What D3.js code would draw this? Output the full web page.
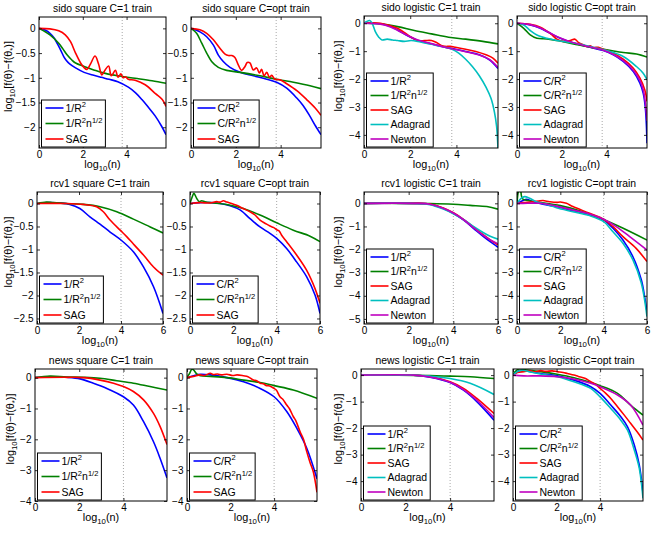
<!DOCTYPE html>
<html><head><meta charset="utf-8">
<script src="https://cdn.jsdelivr.net/npm/d3@7"></script>
<style>body{margin:0;background:#fff}svg{display:block}text{font-family:"Liberation Sans",Arial,Helvetica,sans-serif;fill:#000}</style>
</head><body><svg id="c" width="654" height="533"></svg>
<script>
// ---------- tick values ----------
const xTicksSido = [0, 2, 4];
const xTicksRcv1 = [0, 2, 4, 6];
const xTicksNews = [0, 2, 4];
const yTicksHalf = [0, -0.5, -1, -1.5, -2];
const yTicksHalf25 = [0, -0.5, -1, -1.5, -2, -2.5];
const yTicks4 = [0, -1, -2, -3, -4];
const yTicks5 = [0, -1, -2, -3, -4, -5];

// ---------- legend labels ----------
const labelsSquareC1 = ["1/R^2", "1/R^2n^{1/2}", "SAG"];
const labelsSquareOpt = ["C/R^2", "C/R^2n^{1/2}", "SAG"];
const labelsLogC1 = ["1/R^2", "1/R^2n^{1/2}", "SAG", "Adagrad", "Newton"];
const labelsLogOpt = ["C/R^2", "C/R^2n^{1/2}", "SAG", "Adagrad", "Newton"];
const seriesColors = ["#0000ff", "#008000", "#ff0000", "#00bfbf", "#bf00bf"];

// ---------- data: [log10(n), log10(f - f*)] ----------
// sido square C=1
const sidoSqC1_R2 = [[0,0],[0.3,-0.04],[0.5,-0.1],[0.7,-0.2],[0.85,-0.32],[1.0,-0.45],[1.13,-0.57],[1.25,-0.65],[1.4,-0.72],[1.67,-0.8],[2.06,-0.89],[2.5,-0.95],[2.84,-0.99],[3.2,-1.03],[3.6,-1.08],[4.08,-1.19],[4.4,-1.3],[4.7,-1.44],[5.0,-1.6],[5.32,-1.78],[5.6,-1.98],[5.8,-2.15]];
const sidoSqC1_R2n = [[0,0],[0.5,-0.13],[0.9,-0.3],[1.1,-0.42],[1.29,-0.54],[1.5,-0.64],[1.67,-0.7],[2.06,-0.77],[2.5,-0.84],[2.84,-0.89],[3.6,-0.96],[4.39,-1.01],[5.16,-1.06],[5.8,-1.11]];
const sidoSqC1_SAG = [[0,0],[0.5,-0.01],[0.9,-0.05],[1.2,-0.13],[1.44,-0.27],[1.67,-0.5],[1.9,-0.7],[2.05,-0.79],[2.19,-0.83],[2.35,-0.72],[2.56,-0.56],[2.72,-0.72],[2.87,-0.94],[3.02,-0.84],[3.18,-0.76],[3.3,-0.96],[3.49,-0.85],[3.61,-0.99],[3.74,-0.92],[3.84,-1.0],[3.95,-0.98],[4.08,-1.03],[4.39,-1.05],[4.85,-1.14],[5.32,-1.32],[5.63,-1.44],[5.8,-1.58]];
// sido square C=opt
const sidoSqOpt_R2 = [[0,0],[0.4,-0.07],[0.7,-0.17],[1.0,-0.34],[1.22,-0.54],[1.44,-0.67],[1.74,-0.79],[2.19,-0.89],[2.78,-0.96],[3.38,-1.03],[3.82,-1.09],[4.27,-1.21],[4.72,-1.41],[5.0,-1.56],[5.31,-1.78],[5.55,-1.97],[5.8,-2.15]];
const sidoSqOpt_R2n = [[0,0],[0.25,-0.1],[0.48,-0.3],[0.7,-0.5],[0.92,-0.67],[1.22,-0.79],[1.59,-0.85],[2.19,-0.89],[3.08,-0.96],[3.82,-1.03],[4.57,-1.09],[5.31,-1.16],[5.8,-1.22]];
const sidoSqOpt_SAG = [[0,0],[0.4,-0.03],[0.7,-0.1],[1.0,-0.23],[1.29,-0.4],[1.52,-0.52],[1.67,-0.55],[1.82,-0.55],[1.96,-0.59],[2.11,-0.74],[2.26,-0.85],[2.41,-0.77],[2.51,-0.69],[2.63,-0.7],[2.78,-0.84],[2.93,-0.8],[3.05,-0.9],[3.15,-0.83],[3.26,-0.96],[3.38,-0.89],[3.5,-0.99],[3.6,-0.95],[3.75,-1.03],[3.97,-1.04],[4.27,-1.12],[4.72,-1.26],[5.16,-1.44],[5.54,-1.61],[5.8,-1.76]];
// sido logistic C=1
const sidoLogC1_R2 = [[0,0],[0.71,-0.02],[1.15,-0.12],[1.45,-0.24],[1.89,-0.45],[2.33,-0.62],[2.92,-0.74],[3.51,-0.86],[3.96,-0.93],[4.4,-1.01],[4.99,-1.13],[5.43,-1.31],[5.8,-1.62]];
const sidoLogC1_R2n = [[0,0],[0.71,-0.02],[1.45,-0.12],[2.18,-0.26],[2.92,-0.38],[3.66,-0.5],[4.4,-0.57],[5.14,-0.65],[5.8,-0.74]];
const sidoLogC1_SAG = [[0,0],[0.71,0],[1.45,-0.18],[1.74,-0.33],[2.04,-0.5],[2.33,-0.62],[2.63,-0.62],[2.92,-0.62],[3.14,-0.69],[3.37,-0.81],[3.51,-0.83],[3.73,-0.83],[3.96,-0.86],[4.4,-0.93],[4.84,-1.01],[5.28,-1.13],[5.58,-1.25],[5.8,-1.43]];
const sidoLogC1_Ada = [[0,0],[0.12,0.06],[0.24,0.1],[0.34,0.02],[0.49,-0.3],[0.64,-0.5],[0.78,-0.6],[1.0,-0.57],[1.23,-0.6],[1.45,-0.62],[1.74,-0.65],[2.04,-0.62],[2.33,-0.65],[2.63,-0.71],[2.92,-0.75],[3.22,-0.81],[3.51,-0.86],[3.81,-0.93],[4.1,-1.07],[4.4,-1.29],[4.69,-1.55],[4.99,-1.88],[5.28,-2.29],[5.5,-2.7],[5.65,-3.2],[5.74,-3.7],[5.8,-4.5]];
const sidoLogC1_Newton = [[0,0],[0.71,-0.03],[1.15,-0.13],[1.45,-0.25],[1.89,-0.44],[2.33,-0.6],[2.92,-0.73],[3.51,-0.86],[3.96,-0.94],[4.4,-1.02],[4.99,-1.14],[5.43,-1.3],[5.8,-1.58]];
// sido logistic C=opt
const sidoLogOpt_R2 = [[0,0],[0.59,-0.06],[1.04,-0.18],[1.48,-0.36],[1.93,-0.54],[2.52,-0.71],[3.26,-0.86],[3.85,-0.98],[4.3,-1.13],[4.74,-1.37],[5.19,-1.73],[5.48,-2.14],[5.63,-2.5],[5.72,-2.98],[5.77,-3.6],[5.8,-4.3]];
const sidoLogOpt_R2n = [[0,0],[0.3,-0.18],[0.59,-0.42],[0.89,-0.54],[1.33,-0.56],[1.78,-0.62],[2.52,-0.74],[3.26,-0.86],[4.0,-0.95],[4.74,-1.05],[5.33,-1.1],[5.8,-1.21]];
const sidoLogOpt_SAG = [[0,0],[0.59,-0.04],[1.04,-0.14],[1.48,-0.36],[1.78,-0.57],[2.07,-0.65],[2.37,-0.62],[2.59,-0.57],[2.74,-0.69],[2.96,-0.77],[3.1,-0.83],[3.26,-0.81],[3.41,-0.87],[3.63,-0.86],[3.85,-0.93],[4.3,-1.07],[4.74,-1.29],[5.19,-1.61],[5.48,-1.96],[5.7,-2.38],[5.8,-2.8]];
const sidoLogOpt_Ada = [[0,0],[0.3,-0.06],[0.59,-0.26],[0.89,-0.42],[1.33,-0.54],[1.78,-0.62],[2.52,-0.71],[3.26,-0.83],[4.0,-0.98],[4.74,-1.19],[5.33,-1.55],[5.63,-1.79],[5.8,-2.02]];
const sidoLogOpt_Newton = [[0,0],[0.59,-0.05],[1.04,-0.17],[1.48,-0.35],[1.93,-0.53],[2.52,-0.7],[3.26,-0.85],[3.85,-0.97],[4.3,-1.12],[4.74,-1.34],[5.19,-1.68],[5.48,-2.05],[5.63,-2.38],[5.72,-2.8],[5.8,-3.5]];
// rcv1 square C=1
const rcv1SqC1_R2 = [[0,0],[0.6,0.02],[1.08,0.01],[1.56,-0.02],[2.04,-0.11],[2.52,-0.29],[3.0,-0.45],[3.48,-0.62],[4.04,-0.81],[4.59,-1.05],[5.07,-1.38],[5.55,-1.81],[6,-2.39]];
const rcv1SqC1_R2n = [[0,0],[0.45,0.03],[0.77,0.02],[1.4,0],[2.2,-0.02],[3.0,-0.07],[3.8,-0.18],[4.59,-0.34],[5.39,-0.51],[6,-0.64]];
const rcv1SqC1_SAG = [[0,0],[1.4,0],[2.2,-0.02],[2.84,-0.07],[3.16,-0.18],[3.48,-0.36],[3.96,-0.58],[4.27,-0.72],[4.59,-0.88],[5.07,-1.12],[5.55,-1.38],[6,-1.56]];
// rcv1 square C=opt
const rcv1SqOpt_R2 = [[0,0],[0.46,0.02],[0.92,0.02],[1.38,0],[1.85,-0.05],[2.31,-0.14],[2.77,-0.33],[3.23,-0.51],[3.69,-0.65],[4.0,-0.76],[4.46,-0.98],[4.92,-1.27],[5.38,-1.59],[5.77,-1.99],[6,-2.39]];
const rcv1SqOpt_R2n = [[0,0],[0.1,0.14],[0.18,0.22],[0.31,0.11],[0.43,0.04],[0.54,0.06],[0.69,0.04],[0.92,0.02],[1.69,-0.02],[2.46,-0.11],[3.23,-0.25],[4.0,-0.42],[4.77,-0.58],[5.54,-0.71],[6,-0.83]];
const rcv1SqOpt_SAG = [[0,0],[0.46,0.02],[0.92,0.01],[1.23,0.04],[1.4,0.03],[1.54,0.06],[1.7,0.03],[1.92,0],[2.15,-0.04],[2.46,-0.11],[2.77,-0.18],[3.0,-0.25],[3.23,-0.36],[3.5,-0.44],[3.69,-0.49],[3.85,-0.52],[4.0,-0.57],[4.12,-0.6],[4.23,-0.69],[4.46,-0.83],[4.92,-1.12],[5.38,-1.45],[5.77,-1.85],[6,-2.17]];
// rcv1 logistic C=1
const rcv1LogC1_R2 = [[0,0],[2.2,0],[2.95,-0.04],[3.55,-0.22],[4.0,-0.43],[4.45,-0.72],[4.9,-1.08],[5.35,-1.44],[5.65,-1.66],[6,-1.9]];
const rcv1LogC1_R2n = [[0,0],[1.45,0],[2.95,-0.01],[4.0,-0.04],[4.75,-0.09],[5.5,-0.14],[6,-0.25]];
const rcv1LogC1_SAG = [[0,0],[2.2,0],[2.95,-0.03],[3.55,-0.2],[4.0,-0.41],[4.45,-0.69],[4.9,-1.03],[5.35,-1.37],[5.65,-1.58],[6,-1.8]];
const rcv1LogC1_Ada = [[0,0],[2.0,0],[2.95,-0.06],[3.55,-0.25],[4.0,-0.45],[4.45,-0.7],[4.9,-1.0],[5.35,-1.27],[5.65,-1.42],[6,-1.55]];
const rcv1LogC1_Newton = [[0,0],[2.2,0],[2.95,-0.04],[3.55,-0.21],[4.0,-0.42],[4.45,-0.7],[4.9,-1.05],[5.35,-1.39],[5.65,-1.58],[6,-1.75]];
// rcv1 logistic C=opt
const rcv1LogOpt_R2 = [[0,0],[0.28,0.12],[0.43,0.17],[0.74,0.07],[1.2,-0.04],[1.82,-0.14],[2.58,-0.32],[3.35,-0.5],[4.0,-0.72],[4.43,-1.08],[4.89,-1.59],[5.35,-2.31],[5.74,-3.32],[5.89,-4.04],[6,-4.7]];
const rcv1LogOpt_R2n = [[0,0],[0.08,0.55],[0.15,0.62],[0.25,0.2],[0.5,0.12],[1,0.05],[2,-0.1],[3,-0.35],[4,-0.7],[4.9,-1.08],[6,-1.59]];
const rcv1LogOpt_SAG = [[0,0],[0.28,0.03],[0.74,0.07],[1.0,0.1],[1.2,0.12],[1.5,0.07],[1.82,0.04],[2.0,0.06],[2.28,0],[2.58,-0.14],[3.35,-0.43],[4.0,-0.69],[4.43,-1.01],[4.89,-1.44],[5.5,-1.95],[6,-2.52]];
const rcv1LogOpt_Ada = [[0,0],[0.2,0.22],[0.35,0.29],[0.58,0.22],[0.89,0.07],[1.35,-0.04],[1.82,-0.19],[2.58,-0.36],[3.35,-0.53],[4.0,-0.79],[4.43,-1.23],[4.89,-1.73],[5.35,-2.45],[5.74,-3.46],[6,-4.9]];
const rcv1LogOpt_Newton = [[0,0],[0.28,0],[1.05,0],[1.82,-0.12],[2.58,-0.29],[3.35,-0.46],[4.0,-0.69],[4.58,-1.01],[5.2,-1.44],[6,-2.02]];
// news square C=1
const newsSqC1_R2 = [[0,0],[0.68,0.03],[1.43,0.01],[2.04,-0.04],[2.64,-0.18],[3.25,-0.35],[4.0,-0.62],[4.45,-0.89],[4.91,-1.43],[5.36,-2.08],[5.66,-2.62],[5.97,-3.25]];
const newsSqC1_R2n = [[0,0],[0.68,0.05],[1.43,0.02],[2.2,0.01],[2.94,-0.02],[3.7,-0.1],[4.45,-0.18],[5.2,-0.29],[5.97,-0.4]];
const newsSqC1_SAG = [[0,0],[1.43,0.01],[2.2,0],[2.94,-0.08],[3.55,-0.18],[4.0,-0.29],[4.45,-0.45],[4.91,-0.72],[5.36,-1.16],[5.66,-1.59],[5.97,-2.17]];
// news square C=opt
const newsSqOpt_R2 = [[0,0],[0.3,0.06],[0.61,0.11],[1.07,0.09],[1.83,0],[2.6,-0.13],[3.36,-0.35],[4.0,-0.62],[4.58,-1.1],[5.04,-1.64],[5.5,-2.29],[5.97,-3.28]];
const newsSqOpt_R2n = [[0,0],[0.12,0.14],[0.23,0.28],[0.3,0.25],[0.46,0.11],[0.61,0.06],[1.07,0.04],[1.83,0],[2.6,-0.08],[3.36,-0.16],[4.0,-0.26],[4.88,-0.4],[5.97,-0.67]];
const newsSqOpt_SAG = [[0,0],[0.3,0.04],[0.61,0.09],[0.8,0.07],[1.07,0.14],[1.2,0.1],[1.4,0.12],[1.6,0.09],[1.83,0.11],[2.1,0.07],[2.3,0.09],[2.6,0.06],[2.8,0.03],[3.05,-0.08],[3.2,-0.1],[3.36,-0.18],[3.5,-0.2],[3.66,-0.26],[3.8,-0.27],[4.0,-0.35],[4.1,-0.4],[4.27,-0.62],[4.4,-0.7],[4.58,-0.89],[4.7,-1.0],[4.88,-1.26],[5.0,-1.4],[5.19,-1.75],[5.35,-2.0],[5.5,-2.4],[5.65,-2.75],[5.8,-3.05],[5.97,-3.72]];
// news logistic C=1
const newsLogC1_R2 = [[0,0],[2.36,0],[3.1,-0.08],[4.0,-0.28],[4.6,-0.57],[5.2,-1.0],[5.97,-1.7]];
const newsLogC1_R2n = [[0,0],[3.1,-0.02],[4.0,-0.04],[4.9,-0.06],[5.97,-0.13]];
const newsLogC1_SAG = [[0,0],[2.36,0],[3.1,-0.06],[4.0,-0.25],[4.6,-0.5],[5.2,-0.88],[5.97,-1.45]];
const newsLogC1_Ada = [[0,0],[2.36,0],[3.1,-0.04],[4.0,-0.13],[4.9,-0.31],[5.97,-0.73]];
const newsLogC1_Newton = [[0,0],[2.36,0],[3.1,-0.07],[4.0,-0.27],[4.6,-0.55],[5.2,-0.95],[5.97,-1.6]];
// news logistic C=opt
const newsLogOpt_R2 = [[0,0],[0.18,0.13],[0.42,0.19],[0.8,0.13],[1.26,0.06],[2.03,-0.03],[2.8,-0.19],[3.57,-0.44],[4.0,-0.69],[4.49,-1.13],[4.95,-1.57],[5.26,-1.95],[5.57,-2.64],[5.8,-3.4],[5.97,-4.45]];
const newsLogOpt_R2n = [[0,0],[0.1,0.13],[0.26,0.23],[0.42,0.23],[0.65,0.19],[1.26,0.13],[2.03,0.03],[2.8,-0.1],[3.57,-0.28],[4.0,-0.4],[4.8,-0.69],[5.4,-1.13],[5.97,-1.51]];
const newsLogOpt_SAG = [[0,0],[0.2,0.1],[0.5,0.13],[0.8,0.16],[1.0,0.12],[1.26,0.17],[1.5,0.14],[1.8,0.16],[2.03,0.13],[2.3,0.1],[2.5,0.06],[2.8,0.0],[3.0,-0.05],[3.3,-0.12],[3.57,-0.25],[3.8,-0.35],[4.0,-0.5],[4.26,-0.69],[4.49,-0.88],[4.8,-1.19],[5.11,-1.51],[5.4,-1.82],[5.7,-2.14],[5.97,-2.45]];
const newsLogOpt_Ada = [[0,0],[0.18,0.12],[0.42,0.18],[0.8,0.12],[1.26,0.04],[2.03,-0.06],[2.8,-0.25],[3.57,-0.5],[4.0,-0.82],[4.49,-1.26],[4.95,-1.7],[5.26,-2.08],[5.57,-2.83],[5.8,-3.52],[5.97,-4.65]];
const newsLogOpt_Newton = [[0,0],[0.5,-0.03],[1.26,-0.03],[2.03,-0.06],[2.8,-0.15],[3.57,-0.31],[4.0,-0.44],[4.8,-0.75],[5.4,-1.13],[5.97,-1.89]];

// ---------- panel layout ----------
const panels = [
 {title:"sido square C=1 train", box:[39,17,166,148], xmax:5.8, xt:xTicksSido, yd:[-2.42,0.23], yt:yTicksHalf, vl:3.8, ylab:11.5, labels:labelsSquareC1, series:[sidoSqC1_R2,sidoSqC1_R2n,sidoSqC1_SAG]},
 {title:"sido square C=opt train", box:[191,17,321,148], xmax:5.8, xt:xTicksSido, yd:[-2.42,0.23], yt:yTicksHalf, vl:3.8, ylab:null, labels:labelsSquareOpt, series:[sidoSqOpt_R2,sidoSqOpt_R2n,sidoSqOpt_SAG]},
 {title:"sido logistic C=1 train", box:[364,16,498,148], xmax:5.8, xt:xTicksSido, yd:[-4.47,0.26], yt:yTicks4, vl:3.8, ylab:342, labels:labelsLogC1, series:[sidoLogC1_R2,sidoLogC1_R2n,sidoLogC1_SAG,sidoLogC1_Ada,sidoLogC1_Newton]},
 {title:"sido logistic C=opt train", box:[517,16,647,148], xmax:5.8, xt:xTicksSido, yd:[-4.47,0.26], yt:yTicks4, vl:3.8, ylab:null, labels:labelsLogOpt, series:[sidoLogOpt_R2,sidoLogOpt_R2n,sidoLogOpt_SAG,sidoLogOpt_Ada,sidoLogOpt_Newton]},
 {title:"rcv1 square C=1 train", box:[37,192,163,324], xmax:6, xt:xTicksRcv1, yd:[-2.62,0.25], yt:yTicksHalf25, vl:4, ylab:11.5, labels:labelsSquareC1, series:[rcv1SqC1_R2,rcv1SqC1_R2n,rcv1SqC1_SAG]},
 {title:"rcv1 square C=opt train", box:[190,192,320,324], xmax:6, xt:xTicksRcv1, yd:[-2.62,0.25], yt:yTicksHalf25, vl:4, ylab:null, labels:labelsSquareOpt, series:[rcv1SqOpt_R2,rcv1SqOpt_R2n,rcv1SqOpt_SAG]},
 {title:"rcv1 logistic C=1 train", box:[364,192,498,324], xmax:6, xt:xTicksRcv1, yd:[-5.22,0.49], yt:yTicks5, vl:4, ylab:342, labels:labelsLogC1, series:[rcv1LogC1_R2,rcv1LogC1_R2n,rcv1LogC1_SAG,rcv1LogC1_Ada,rcv1LogC1_Newton]},
 {title:"rcv1 logistic C=opt train", box:[517,192,647,324], xmax:6, xt:xTicksRcv1, yd:[-5.22,0.49], yt:yTicks5, vl:4, ylab:null, labels:labelsLogOpt, series:[rcv1LogOpt_R2,rcv1LogOpt_R2n,rcv1LogOpt_SAG,rcv1LogOpt_Ada,rcv1LogOpt_Newton]},
 {title:"news square C=1 train", box:[35,369,167,501], xmax:5.97, xt:xTicksNews, yd:[-4,0.28], yt:yTicks4, vl:4, ylab:13.5, labels:labelsSquareC1, series:[newsSqC1_R2,newsSqC1_R2n,newsSqC1_SAG]},
 {title:"news square C=opt train", box:[187,369,317,501], xmax:5.97, xt:xTicksNews, yd:[-4,0.28], yt:yTicks4, vl:4, ylab:null, labels:labelsSquareOpt, series:[newsSqOpt_R2,newsSqOpt_R2n,newsSqOpt_SAG]},
 {title:"news logistic C=1 train", box:[361,369,494,501], xmax:5.97, xt:xTicksNews, yd:[-4.75,0.23], yt:yTicks4, vl:4, ylab:342, labels:labelsLogC1, series:[newsLogC1_R2,newsLogC1_R2n,newsLogC1_SAG,newsLogC1_Ada,newsLogC1_Newton]},
 {title:"news logistic C=opt train", box:[513,369,643,501], xmax:5.97, xt:xTicksNews, yd:[-4.75,0.23], yt:yTicks4, vl:4, ylab:null, labels:labelsLogOpt, series:[newsLogOpt_R2,newsLogOpt_R2n,newsLogOpt_SAG,newsLogOpt_Ada,newsLogOpt_Newton]}
];

// ---------- helpers ----------
function rich(sel, str, size) {
  const segs = []; let i = 0, buf = "";
  while (i < str.length) {
    const c = str[i];
    if (c === '^' || c === '_') {
      if (buf) { segs.push({t: buf, m: 0}); buf = ""; }
      let t;
      if (str[i+1] === '{') { const j = str.indexOf('}', i); t = str.slice(i+2, j); i = j + 1; }
      else { t = str[i+1]; i += 2; }
      segs.push({t, m: c === '^' ? 1 : -1});
    } else { buf += c; i++; }
  }
  if (buf) segs.push({t: buf, m: 0});
  let cur = 0;
  segs.forEach(s => {
    const off = s.m === 1 ? -0.42 * size : s.m === -1 ? 0.32 * size : 0;
    sel.append('tspan').attr('dy', off - cur).attr('font-size', s.m ? size * 0.72 : size).text(s.t);
    cur = off;
  });
}
const fmt = v => (v < 0 ? "\u2212" : "") + Math.abs(v);

const svg = d3.select('#c');
const defs = svg.append('defs');

panels.forEach((p, pi) => {
  const [x0, y0, x1, y1] = p.box;
  const x = d3.scaleLinear().domain([0, p.xmax]).range([x0, x1]);
  const y = d3.scaleLinear().domain(p.yd).range([y1, y0]);
  const g = svg.append('g');
  defs.append('clipPath').attr('id', 'cl' + pi).append('rect')
    .attr('x', x0).attr('y', y0).attr('width', x1 - x0).attr('height', y1 - y0);

  // dotted vertical reference line
  g.append('line').attr('x1', x(p.vl)).attr('x2', x(p.vl)).attr('y1', y0).attr('y2', y1)
    .attr('stroke', '#a8a8a8').attr('stroke-width', 1).attr('stroke-dasharray', '1,2');

  // series
  const line = d3.line().x(d => x(d[0])).y(d => y(d[1])).curve(d3.curveCatmullRom.alpha(0.5));
  const lg = g.append('g').attr('clip-path', `url(#cl${pi})`);
  p.series.forEach((s, i) => lg.append('path').attr('d', line(s)).attr('fill', 'none')
    .attr('stroke', seriesColors[i]).attr('stroke-width', 1.6).attr('stroke-linejoin', 'round'));

  // axes (ticks inside, on all four sides)
  const ax = (gen, tx, ty, withLabels) => {
    const a = g.append('g').attr('transform', `translate(${tx},${ty})`).call(gen);
    a.select('.domain').remove();
    a.selectAll('line').attr('stroke', '#000').attr('stroke-width', 0.8);
    a.selectAll('text').attr('font-size', 10).attr('fill', '#000')
      .style('font-family', '"Liberation Sans",Arial,sans-serif');
    if (!withLabels) a.selectAll('text').remove();
    return a;
  };
  ax(d3.axisBottom(x).tickValues(p.xt).tickSize(-3).tickPadding(2.5).tickFormat(fmt), 0, y1, true);
  ax(d3.axisTop(x).tickValues(p.xt).tickSize(-3).tickFormat(''), 0, y0, false);
  ax(d3.axisLeft(y).tickValues(p.yt).tickSize(-3).tickPadding(3.5).tickFormat(fmt), x0, 0, true);
  ax(d3.axisRight(y).tickValues(p.yt).tickSize(-3).tickFormat(''), x1, 0, false);

  // frame
  g.append('rect').attr('x', x0).attr('y', y0).attr('width', x1 - x0).attr('height', y1 - y0)
    .attr('fill', 'none').attr('stroke', '#000').attr('stroke-width', 1);

  // title
  g.append('text').attr('x', (x0 + x1) / 2).attr('y', y0 - 5).attr('text-anchor', 'middle')
    .attr('font-size', 10.4).text(p.title);

  // x label
  const xl = g.append('text').attr('x', (x0 + x1) / 2).attr('y', y1 + 19.5).attr('text-anchor', 'middle');
  rich(xl, "log_{10}(n)", 10.8);

  // y label
  if (p.ylab !== null) {
    const cy = (y0 + y1) / 2 - 6;
    const yl = g.append('text').attr('transform', `translate(${p.ylab},${cy}) rotate(-90)`)
      .attr('text-anchor', 'middle');
    rich(yl, "log_{10}[f(\u03b8)\u2212f(\u03b8_*)]", 10.8);
  }

  // legend
  const n = p.labels.length;
  const lh = n === 3 ? 47 : 74;
  const lx = x0 + 2.5, lb = y1 - 1, ly = lb - lh;
  const leg = g.append('g');
  const rect = leg.append('rect').attr('x', lx).attr('y', ly).attr('height', lh)
    .attr('fill', '#fff').attr('stroke', '#000').attr('stroke-width', 1);
  let maxW = 0;
  const step = (lh - 16) / (n - 1);
  p.labels.forEach((lab, i) => {
    const cy = ly + 8 + i * step;
    leg.append('line').attr('x1', lx + 4).attr('x2', lx + 22).attr('y1', cy).attr('y2', cy)
      .attr('stroke', seriesColors[i]).attr('stroke-width', 1.6);
    const t = leg.append('text').attr('x', lx + 24).attr('y', cy + 3.8);
    rich(t, lab, 10.5);
    maxW = Math.max(maxW, t.node().getComputedTextLength());
  });
  rect.attr('width', 24 + maxW + 3);
});
</script></body></html>
